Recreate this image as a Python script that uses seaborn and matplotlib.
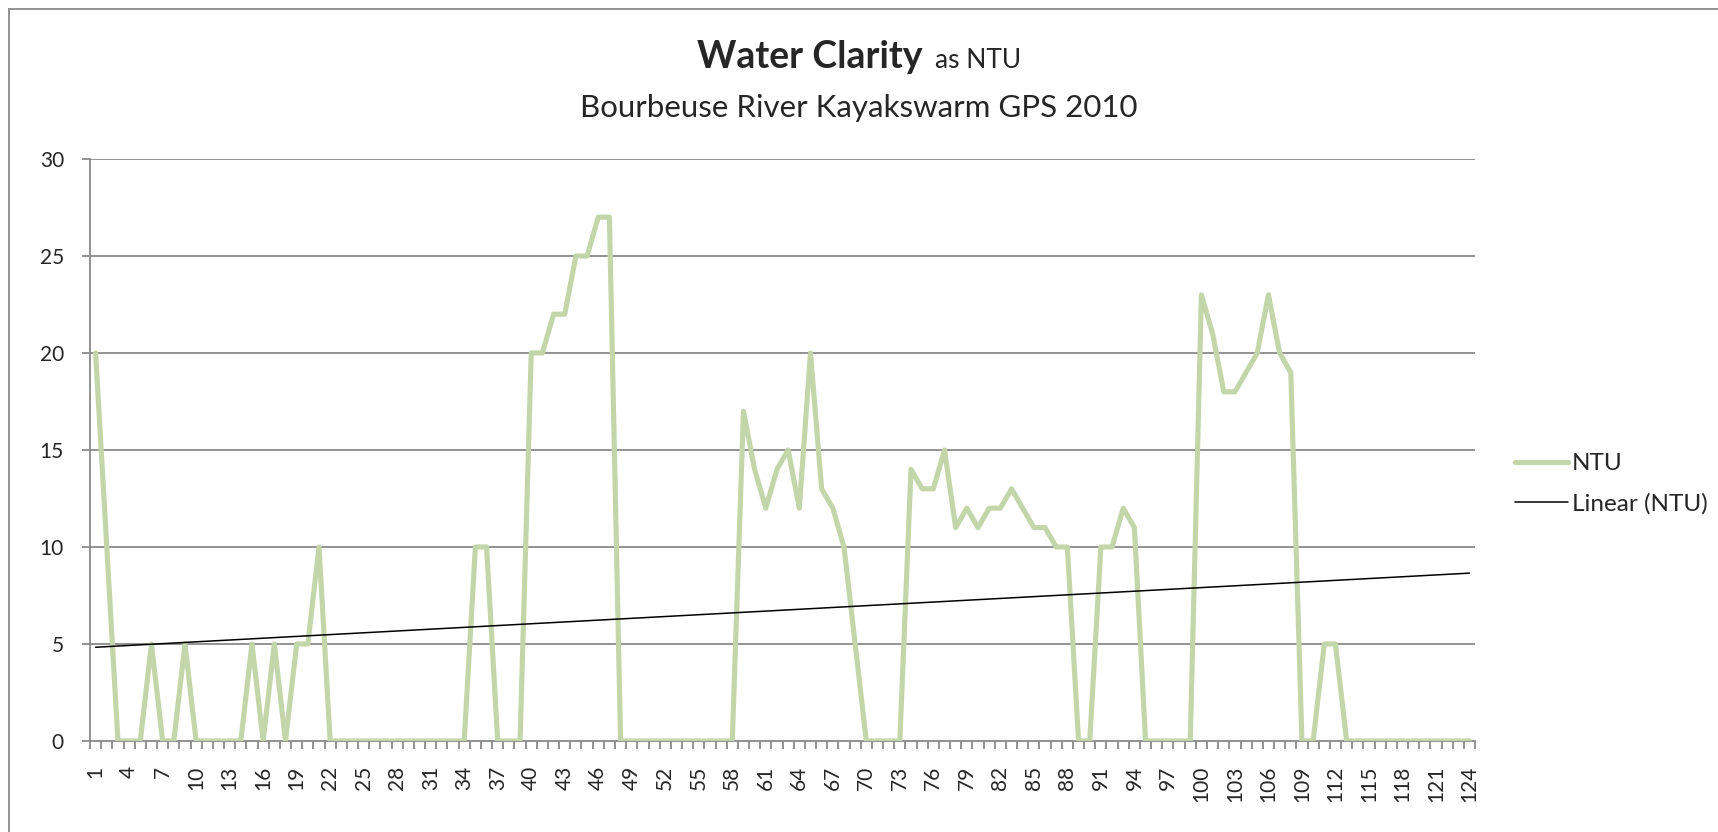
import numpy as np
import pandas as pd
import matplotlib
matplotlib.use("Agg")
import matplotlib.pyplot as plt
import seaborn as sns
from matplotlib.lines import Line2D

# leituras de NTU por ponto GPS (1..124)
pontos = list(range(1, 125))
ntu = [20, 10, 0, 0, 0, 5, 0, 0, 5, 0,
       0, 0, 0, 0, 5, 0, 5, 0, 5, 5,
       10, 0, 0, 0, 0, 0, 0, 0, 0, 0,
       0, 0, 0, 0, 10, 10, 0, 0, 0, 20,
       20, 22, 22, 25, 25, 27, 27, 0, 0, 0,
       0, 0, 0, 0, 0, 0, 0, 0, 17, 14,
       12, 14, 15, 12, 20, 13, 12, 10, 5, 0,
       0, 0, 0, 14, 13, 13, 15, 11, 12, 11,
       12, 12, 13, 12, 11, 11, 10, 10, 0, 0,
       10, 10, 12, 11, 0, 0, 0, 0, 0, 23,
       21, 18, 18, 19, 20, 23, 20, 19, 0, 0,
       5, 5, 0, 0, 0, 0, 0, 0, 0, 0,
       0, 0, 0, 0]
rotulos_x = [str(p) for p in pontos[::3]]
ticks_y = [0, 5, 10, 15, 20, 25, 30]

df = pd.DataFrame({"ponto": pontos, "NTU": ntu})
coef = np.polyfit(df["ponto"], df["NTU"], 1)  # linha de tendencia (como no Excel)
df["Linear (NTU)"] = np.polyval(coef, df["ponto"])

sns.set_theme(style="white")
plt.rcParams["font.family"] = ["Lato", "DejaVu Sans"]

fig = plt.figure(figsize=(17.18, 8.32), dpi=100)
ax = fig.add_axes([0.0524, 0.1094, 0.8062, 0.6995])

grid_cor = "#8a8a8a"
for v in ticks_y[1:]:
    ax.axhline(v, color=grid_cor, linewidth=1.3, zorder=1)

sns.lineplot(data=df, x="ponto", y="NTU", ax=ax, color="#c3d6a9", linewidth=3.7,
             label="NTU", zorder=3)
sns.lineplot(data=df, x="ponto", y="Linear (NTU)", ax=ax, color="black", linewidth=1.1,
             label="Linear (NTU)", zorder=4)
for ln in ax.lines:
    ln.set_solid_joinstyle("round")
    ln.set_solid_capstyle("round")

ax.set_xlim(0.5, 124.5)
ax.set_ylim(0, 30)
ax.set_yticks(ticks_y)
ax.set_yticklabels([str(v) for v in ticks_y], fontsize=15)
ax.set_xticks(pontos[::3])
ax.set_xticklabels(rotulos_x, rotation=90, fontsize=15)
ax.set_xticks(np.arange(0.5, 125, 1), minor=True)
ax.tick_params(axis="x", which="major", length=0, pad=18)
ax.tick_params(axis="x", which="minor", length=5.5, width=1.3, color=grid_cor, direction="out", bottom=True)
ax.tick_params(axis="y", which="major", length=5.8, width=1.3, color=grid_cor, direction="out", left=True, pad=13)
ax.set_xlabel("")
ax.set_ylabel("")

for lado in ["top", "right"]:
    ax.spines[lado].set_visible(False)
for lado in ["left", "bottom"]:
    ax.spines[lado].set_color(grid_cor)
    ax.spines[lado].set_linewidth(1.3)

ax.legend(loc="center left", bbox_to_anchor=(1515 / 1718, 1 - 484 / 832),
          bbox_transform=fig.transFigure, frameon=False, fontsize=17.5,
          borderpad=0, borderaxespad=0, handlelength=2.2, handletextpad=0.15,
          labelspacing=0.8)

# titulo com duas formatacoes
y_tit = 1 - 68 / 832
t1 = fig.text(0.5, y_tit, "Water Clarity", fontsize=27, fontweight="bold", ha="left", va="baseline")
t2 = fig.text(0.5, y_tit, "as NTU", fontsize=19, ha="left", va="baseline")
fig.canvas.draw()
r = fig.canvas.get_renderer()
gap = 13 / 1718
w1 = t1.get_window_extent(r).width / fig.bbox.width
w2 = t2.get_window_extent(r).width / fig.bbox.width
x0 = 0.5 - (w1 + gap + w2) / 2
t1.set_x(x0)
t2.set_x(x0 + w1 + gap)
fig.text(0.5, 1 - 117 / 832, "Bourbeuse River Kayakswarm GPS 2010", fontsize=22.5,
         ha="center", va="baseline")

# borda do grafico
fig.add_artist(Line2D([0.0055, 1.0], [0.989, 0.989], color=grid_cor, linewidth=1.3))
fig.add_artist(Line2D([0.0055, 0.0055], [0.0, 0.989], color=grid_cor, linewidth=1.3))

fig.savefig("out.png", dpi=100)
plt.close(fig)
